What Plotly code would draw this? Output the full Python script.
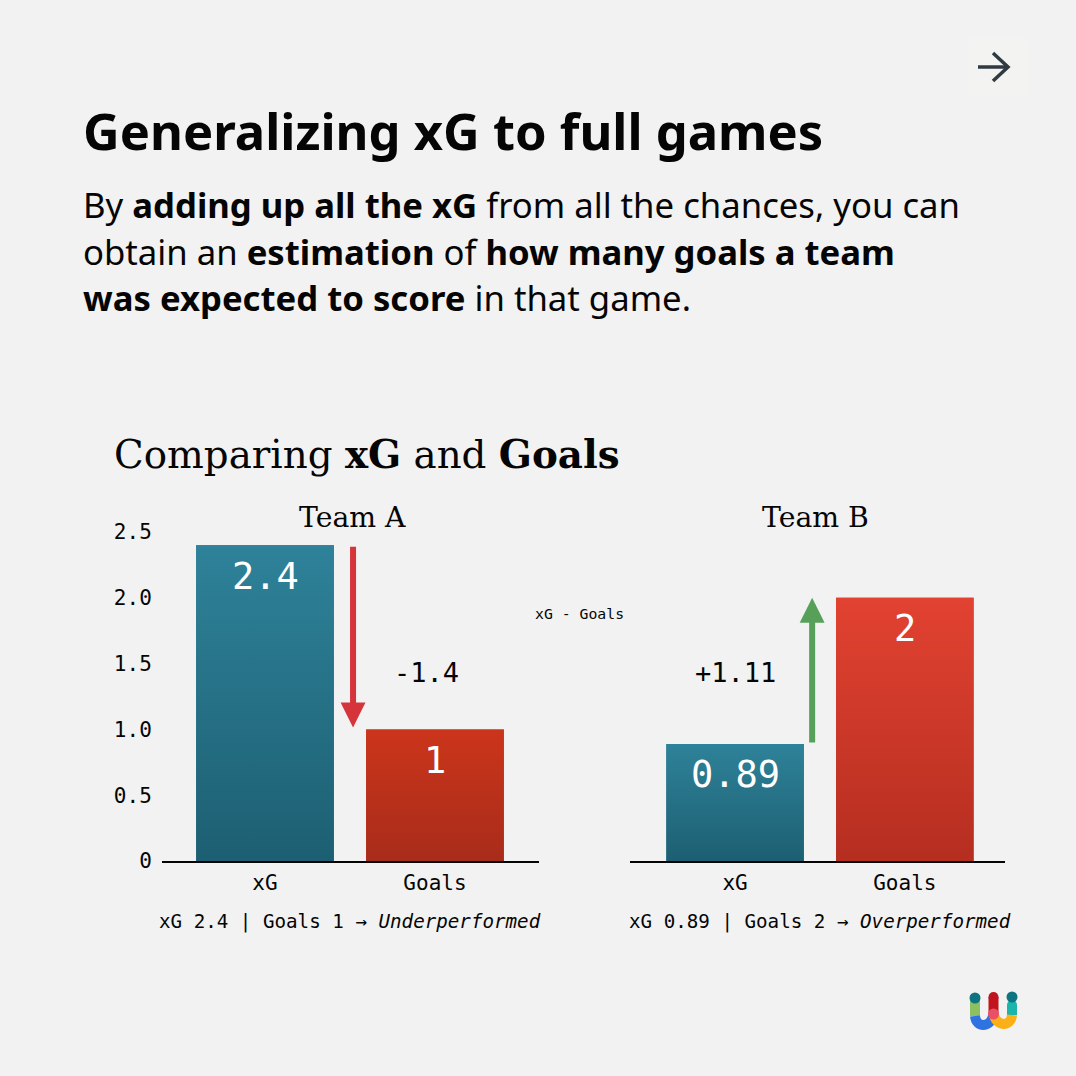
import plotly.graph_objects as go

# values
categories = ["xG", "Goals"]
team_names = ["Team A", "Team B"]
xg_values = [2.4, 0.89]
goal_values = [1, 2]
value_labels = [["2.4", "1"], ["0.89", "2"]]
deltas = ["-1.4", "+1.11"]
captions = ["xG 2.4 | Goals 1 → <i>Underperformed</i>",
            "xG 0.89 | Goals 2 → <i>Overperformed</i>"]
y_ticks = [0, 0.5, 1, 1.5, 2, 2.5]
y_tick_text = ["0", "0.5", "1.0", "1.5", "2.0", "2.5"]
title = "<b>Generalizing xG to full games</b>"
body_lines = [
    "By <b>adding up all the xG</b> from all the chances, you can",
    "obtain an <b>estimation</b> of <b>how many goals a team</b>",
    "<b>was expected to score</b> in that game.",
]
subtitle = "Comparing <b>xG</b> and <b>Goals</b>"

SIZE = 1076
BG = "#f2f2f2"
INK = "#050505"
SANS = "Noto Sans"
SERIF = "DejaVu Serif"
MONO = "DejaVu Sans Mono"
BAR_WIDTH = 0.81
teal_scale = [[0, "#1d5f72"], [1, "#2e8299"]]
red_scales = [[[0, "#a82c1a"], [1, "#cb351b"]], [[0, "#b52e20"], [1, "#e24231"]]]
arrow_colors = ["#d5343a", "#57a05a"]
arrow_x = [0.518, 0.454]


def px(x):
    return x / SIZE


def py(y):
    return 1 - y / SIZE


def bar_outline(i, v):
    left, right = i - BAR_WIDTH / 2, i + BAR_WIDTH / 2
    return [left, left, right, right, left], [0, v, v, 0, 0]


fig = go.Figure()
annotations = []
shapes = []

for t in range(2):
    xa = "x" if t == 0 else "x2"
    ya = "y" if t == 0 else "y2"
    vals = [xg_values[t], goal_values[t]]
    fig.add_trace(go.Bar(x=[0, 1], y=vals, width=BAR_WIDTH, xaxis=xa, yaxis=ya,
                         marker=dict(color=["#26718a", "#c0321e"], line_width=0),
                         hoverinfo="skip", showlegend=False))
    # same bars again with the vertical fade, plotly bars cant do gradients
    for i, scale in enumerate([teal_scale, red_scales[t]]):
        ox, oy = bar_outline(i, vals[i])
        fig.add_trace(go.Scatter(x=ox, y=oy, xaxis=xa, yaxis=ya, mode="none", fill="toself",
                                 fillgradient=dict(type="vertical", colorscale=scale),
                                 hoverinfo="skip", showlegend=False))
        annotations.append(dict(x=i, y=vals[i], xref=xa, yref=ya, text=value_labels[t][i],
                                showarrow=False, yshift=-31, yanchor="middle",
                                font=dict(family=MONO, size=37, color="white")))
    annotations.append(dict(x=arrow_x[t], y=vals[1], ax=arrow_x[t], ay=vals[0],
                            xref=xa, yref=ya, axref=xa, ayref=ya, text="",
                            showarrow=True, arrowhead=2, arrowsize=0.83, arrowwidth=6,
                            arrowcolor=arrow_colors[t], standoff=2 if t == 0 else 0, startstandoff=0))

layout_axes = dict(
    xaxis=dict(domain=[px(162), px(539)], range=[-0.606, 1.612], tickvals=[0, 1], ticktext=categories,
               showgrid=False, zeroline=False, showline=True, linecolor=INK, linewidth=2,
               ticks="outside", ticklen=2, tickcolor="rgba(0,0,0,0)", automargin=False,
               tickfont=dict(family=MONO, size=21, color=INK), anchor="y", fixedrange=True),
    xaxis2=dict(domain=[px(630), px(1005)], range=[-0.619, 1.59], tickvals=[0, 1], ticktext=categories,
                showgrid=False, zeroline=False, showline=True, linecolor=INK, linewidth=2,
                ticks="outside", ticklen=2, tickcolor="rgba(0,0,0,0)", automargin=False,
                tickfont=dict(family=MONO, size=21, color=INK), anchor="y2", fixedrange=True),
    yaxis=dict(domain=[py(861), py(532)], range=[0, 2.5], tickvals=y_ticks, ticktext=y_tick_text,
               showgrid=False, zeroline=False, showline=False, ticks="outside", ticklen=5,
               tickcolor="rgba(0,0,0,0)", tickfont=dict(family=MONO, size=21, color=INK),
               automargin=False, anchor="x", fixedrange=True),
    yaxis2=dict(domain=[py(861), py(532)], range=[0, 2.5], visible=False, anchor="x2",
                automargin=False, fixedrange=True),
)


def paper_text(x, y, text, family, size, anchor="left", color=INK):
    # annotations carry about 3px of padding on the left
    shift = -3 if anchor == "left" else 0
    annotations.append(dict(x=px(x + shift), y=py(y), xref="paper", yref="paper", text=text, showarrow=False,
                            xanchor=anchor, yanchor="middle",
                            font=dict(family=family, size=size, color=color)))


paper_text(84, 131, title, SANS, 50.7)
for line, y in zip(body_lines, [204, 251, 298]):
    paper_text(84, y, line, SANS, 34.7)
paper_text(115, 454, subtitle, SERIF, 38.8)
paper_text(352, 517, team_names[0], SERIF, 28.3, "center")
paper_text(815, 517, team_names[1], SERIF, 28.3, "center")
paper_text(579, 613.5, "xG - Goals", MONO, 14.8, "center")
paper_text(427, 672, deltas[0], MONO, 27, "center")
paper_text(735, 672, deltas[1], MONO, 27, "center")
paper_text(350, 921, captions[0], MONO, 19.2, "center")
paper_text(820, 921, captions[1], MONO, 19.2, "center")


def pt(x, y):
    return f"{px(x):.5f},{py(y):.5f}"


def line_path(points):
    return "M" + " L".join(pt(x, y) for x, y in points)


def stroke(path, color, width):
    shapes.append(dict(type="path", path=path, xref="paper", yref="paper",
                       line=dict(color=color, width=width), fillcolor="rgba(0,0,0,0)"))


def dot(x, y, r, color):
    shapes.append(dict(type="circle", xref="paper", yref="paper", x0=px(x - r), x1=px(x + r),
                       y0=py(y + r), y1=py(y - r), fillcolor=color, line_width=0))


# next-page arrow, top right
shapes.append(dict(type="rect", xref="paper", yref="paper", x0=px(968), x1=px(1028), y0=py(96), y1=py(38),
                   fillcolor="#f3f3f1", line_width=0))
stroke(line_path([(978, 67), (1008, 67)]), "#2f3a42", 3.5)
stroke(line_path([(993, 53), (1008, 67), (993, 81)]), "#2f3a42", 3.5)

# logo, bottom right
stroke(line_path([(975, 998), (975, 1016)]), "#8cc063", 10)
stroke(f"M{pt(975, 1016)} C{pt(976, 1028)} {pt(990, 1028)} {pt(993, 1016)}", "#2f73e0", 10)
stroke(line_path([(1012, 1005), (1012, 1015)]), "#1cb5ac", 10)
dot(1012, 1005, 5, "#1cb5ac")
stroke(line_path([(993.5, 997), (993.5, 1015)]), "#c0141f", 10)
dot(993.5, 997, 5, "#c0141f")
stroke(f"M{pt(994, 1015)} C{pt(997, 1027)} {pt(1011, 1027)} {pt(1012, 1015)}", "#fbb017", 10)
dot(993.5, 1014, 5.5, "#ea4f68")
dot(975, 998, 5.5, "#0d7480")
dot(1012, 997, 5.5, "#0d7480")

fig.update_layout(width=SIZE, height=SIZE, margin=dict(l=0, r=0, t=0, b=0), autosize=False,
                  paper_bgcolor=BG, plot_bgcolor=BG, showlegend=False, barmode="overlay",
                  annotations=annotations, shapes=shapes, **layout_axes)

fig.write_html("out.html", config={"displayModeBar": False},
               post_script="document.body.style.margin='0';document.body.style.background='#f2f2f2';")
